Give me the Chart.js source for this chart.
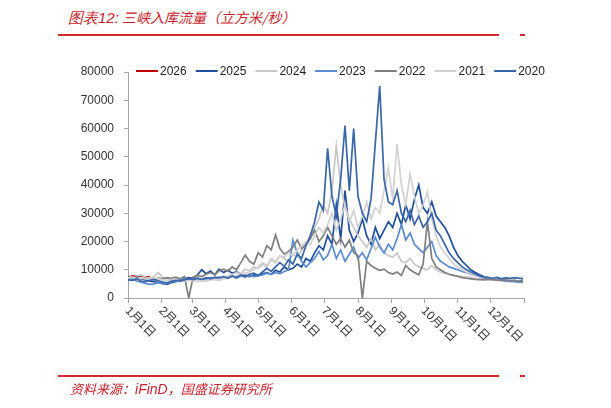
<!DOCTYPE html>
<html>
<head>
<meta charset="utf-8">
<script src="https://cdn.jsdelivr.net/npm/chart.js@4.4.1/dist/chart.umd.min.js"></script>
<style>
  body { margin: 0; width: 611px; height: 408px; background: #fff; position: relative; overflow: hidden; }
  #wrap { position: absolute; left: 0; top: 0; width: 611px; height: 408px; }
  .title { position: absolute; left: 68px; top: 7px; font: italic 14px 'Noto Sans CJK SC', sans-serif; color: #c8232c; white-space: nowrap; }
  .title b { font-family: 'Liberation Sans', Arial, sans-serif; font-weight: normal; font-size: 15px; }
  .rule { position: absolute; height: 1.5px; background: #d42a2a; }
  .source { position: absolute; left: 70px; top: 379px; font: italic 13px 'Noto Sans CJK SC', sans-serif; color: #c8232c; white-space: nowrap; }
  .source b { font-family: 'Liberation Sans', Arial, sans-serif; font-weight: normal; font-size: 14px; }
</style>
</head>
<body>
<div class="title"><b>图表12:</b> 三峡入库流量（立方米/秒）</div>
<div class="rule" style="left:58px; top:34px; width:441px;"></div>
<div class="rule" style="left:520px; top:34px; width:5px;"></div>
<div id="wrap"><canvas id="chart" width="611" height="408"></canvas></div>
<div class="rule" style="left:58px; top:375px; width:441px;"></div>
<div class="rule" style="left:520px; top:375px; width:5px;"></div>
<div class="source">资料来源：<b>iFinD</b>，国盛证券研究所</div>

<script>
// samples every 4 days, starting 1 Jan
const STEP = 4;

const monthLabels = ['1月1日','2月1日','3月1日','4月1日','5月1日','6月1日','7月1日','8月1日','9月1日','10月1日','11月1日','12月1日'];
const monthStarts = [0, 31, 59, 90, 120, 151, 181, 212, 243, 273, 304, 334];
const yearEnd = 365;

const seriesNames = ['2026','2025','2024','2023','2022','2021','2020'];
const seriesColors = ['#c00000','#1f4e9c','#c8c8c8','#5b8bd0','#7f7f7f','#d2d2d2','#3a66a8'];

const y2026 = [7000, 7800, 7600, 7900, 7400, 7600];

const y2025 = [
  7200, 6800, 7500, 6900, 6400, 6000, 5800, 5500,
  5200, 4800, 5400, 5800, 6200, 6800, 7200,
  7000, 8200, 10000, 8600, 9500, 8200, 10200, 9000,
  9800, 8800, 9200, 8400, 8000, 7600, 8200,
  8000, 8600, 9000, 8400, 9800, 9200, 11000, 10000,
  10500, 12000, 11000, 14000, 13000, 16000, 18500, 17000,
  22000, 19000, 33000, 21000, 38000, 24000, 20000,
  23000, 28000, 22000, 19000, 25000, 21000, 24000, 27000,
  25000, 30000, 26000, 33000, 28000, 35000, 40000, 32000,
  30000, 34000, 29000, 27000, 25000, 22000, 18000,
  15000, 13000, 11500, 10000, 9000, 8200, 7600, 7200,
  6800, 7000, 6600, 6400, 6200, 6000, 5800, 5600
];

const y2024 = [
  7500, 7000, 7800, 8200, 7400, 7000, 7600, 9000,
  7200, 6800, 6400, 6600, 6200, 6000, 6400,
  6200, 6600, 6000, 6400, 6800, 6500, 7000, 7400,
  7800, 8400, 9000, 8600, 10200, 9600, 11000,
  10500, 12000, 11000, 13500, 12500, 15000, 14000, 13000,
  15500, 14500, 17000, 19000, 22000, 25000, 28000, 33000,
  30000, 38000, 53800, 40000, 32000, 28000, 25000,
  22000, 20000, 18000, 21000, 17000, 19000, 16000, 15000,
  14500, 16000, 13000, 12500, 14000, 12000, 11000, 10500,
  10000, 11500, 10000, 9200, 8800, 8400, 8000,
  7800, 7600, 7400, 7200, 7000, 6800, 6900, 7000,
  6800, 6700, 7000, 6600, 6800, 7200, 6900, 7100
];

const y2023 = [
  6200, 6600, 6000, 5600, 5200, 4800, 5000, 5400,
  5000, 5200, 5600, 6000, 6400, 6200, 6800,
  6600, 7000, 6400, 6800, 7200, 6900, 7400, 7000,
  7200, 7600, 7000, 7800, 7400, 8000, 7600,
  7800, 8200, 8800, 8400, 9000, 8600, 9400, 10000,
  20500, 16000, 13000, 11000, 12500, 14000, 16500, 13500,
  15000, 19000, 14000, 17000, 13000, 15500, 18000,
  14000, 16000, 13500, 17500, 21500, 18000, 16000, 19000,
  17000, 21000, 26000, 20500, 23000, 19000, 17500, 16000,
  18000, 20000, 15000, 13000, 12000, 11000, 10500,
  10000, 9400, 9000, 8400, 8000, 7600, 7200, 6800,
  6600, 6400, 6200, 6000, 5900, 5800, 5700, 5500
];

const y2022 = [
  7800, 7200, 7600, 6800, 7000, 6400, 6600, 7000,
  6800, 7200, 7000, 7400, 6800, 7600, 0,
  7400, 8000, 7600, 8400, 9000, 8200, 9600, 10200,
  9400, 11000, 10000, 12500, 15200, 13000, 12000,
  16000, 14500, 18500, 17000, 22300, 17500, 15500, 16500,
  18000, 20500, 17500, 19000, 21000, 24000, 20000, 22000,
  25000, 22000, 19000, 21000, 18000, 20500, 16000,
  15000, 0, 13000, 11500, 10500, 9800, 10200, 9000,
  8500, 9200, 8000, 11500, 10000, 9000, 8200, 12000,
  27000, 14000, 11000, 10000, 9000, 8400, 8000,
  7600, 7200, 7000, 6800, 6600, 6500, 6400, 6600,
  6500, 6300, 6200, 6400, 6100, 6300, 6000, 6200
];

const y2021 = [
  7000, 7400, 6800, 7200, 6800, 6600, 7000, 6800,
  6400, 6200, 6000, 6300, 5800, 6000, 6200,
  6000, 5800, 6200, 6000, 6400, 6600, 6200, 6800,
  7000, 7400, 7800, 8200, 8800, 9200, 10000,
  11000, 12500, 11500, 14000, 13000, 15000, 14500, 16000,
  15000, 17000, 18500, 20000, 19000, 22000, 25000, 23000,
  26000, 30000, 24000, 28000, 33000, 27000, 31000,
  25000, 29000, 34000, 28000, 32000, 30000, 38000, 46000,
  35000, 54500, 40000, 33000, 44000, 36000, 30000, 33000,
  37500, 28000, 22000, 18000, 16000, 14000, 12000,
  11000, 10000, 9200, 8600, 8000, 7600, 7400, 7200,
  7000, 7200, 6900, 7100, 7300, 7000, 7200, 7400
];

const y2020 = [
  6500, 6200, 6800, 6000, 5800, 6300, 6600, 6100,
  5600, 5400, 5900, 6200, 6000, 6400, 6800,
  6500, 7000, 6600, 7200, 6800, 7400, 7100, 7600,
  7000, 7800, 7300, 8200, 7600, 8400, 8800,
  8000, 9200, 10500, 9400, 11000, 12500, 11200, 13500,
  12000, 15500, 14000, 18500, 22000, 27000, 34000, 31000,
  53000, 36000, 29000, 42000, 61000, 38000, 60000,
  36000, 30000, 27000, 35000, 55000, 75000, 42000, 34000,
  33000, 38000, 30000, 27000, 31000, 26000, 29000, 25000,
  27000, 30000, 24000, 22000, 19000, 16000, 14000,
  12500, 11000, 10000, 9200, 8500, 7800, 7400, 7200,
  7000, 7300, 6800, 7100, 6900, 7200, 7000, 6800
];

const seriesValues = [y2026, y2025, y2024, y2023, y2022, y2021, y2020];

const toPoints = vals => vals.map((v, i) => ({ x: i * STEP, y: v }));

const datasets = seriesNames.map((name, k) => ({
  label: name,
  data: toPoints(seriesValues[k]),
  borderColor: seriesColors[k],
  backgroundColor: seriesColors[k],
  borderWidth: 1.7,
  pointRadius: 0,
  tension: 0,
  order: seriesNames.length - k
}));

const FONT = "'Liberation Sans', Arial, 'Noto Sans CJK SC', sans-serif";
Chart.defaults.font.family = FONT;
Chart.defaults.font.size = 12;
Chart.defaults.color = '#333';

// legend drawn across the top of the plot, Excel style
const legendPlugin = {
  id: 'topLegend',
  afterDraw(chart) {
    const ctx = chart.ctx;
    ctx.save();
    ctx.font = '12px ' + FONT;
    ctx.textBaseline = 'middle';
    let x = 136;
    const y = 71;
    seriesNames.forEach((name, k) => {
      ctx.strokeStyle = seriesColors[k];
      ctx.lineWidth = 2;
      ctx.beginPath();
      ctx.moveTo(x, y);
      ctx.lineTo(x + 22, y);
      ctx.stroke();
      ctx.fillStyle = '#222';
      ctx.fillText(name, x + 24, y + 1);
      x += 24 + ctx.measureText(name).width + 9;
    });
    ctx.restore();
  }
};

// rotated month labels under the x axis
const monthLabelPlugin = {
  id: 'monthLabels',
  afterDraw(chart) {
    const xs = chart.scales.x;
    const ctx = chart.ctx;
    ctx.save();
    ctx.font = '12px ' + FONT;
    ctx.fillStyle = '#333';
    ctx.textAlign = 'left';
    ctx.textBaseline = 'middle';
    monthLabels.forEach((lab, i) => {
      const px = xs.getPixelForValue(monthStarts[i]);
      ctx.save();
      ctx.translate(px - 1, xs.top + 11);
      ctx.rotate(Math.PI / 4);
      ctx.fillText(lab, 0, 0);
      ctx.restore();
    });
    ctx.restore();
  }
};

new Chart(document.getElementById('chart'), {
  type: 'line',
  data: { datasets },
  options: {
    responsive: false,
    animation: false,
    layout: { padding: { left: 78, right: 87, top: 72, bottom: 0 } },
    plugins: {
      legend: { display: false },
      tooltip: { enabled: false }
    },
    scales: {
      x: {
        type: 'linear',
        min: 0,
        max: yearEnd,
        afterBuildTicks: s => { s.ticks = monthStarts.concat(yearEnd).map(v => ({ value: v })); },
        afterFit: s => { s.height = 110; },
        ticks: { display: false },
        grid: { drawOnChartArea: false, drawTicks: true, tickLength: 5, color: '#a6a6a6' },
        border: { color: '#a6a6a6', width: 1 }
      },
      y: {
        min: 0,
        max: 80000,
        afterFit: s => { s.width = 50; },
        ticks: { stepSize: 10000, padding: 10, color: '#333', callback: v => String(v) },
        grid: { drawOnChartArea: false, drawTicks: true, tickLength: 4, color: '#a6a6a6' },
        border: { color: '#a6a6a6', width: 1 }
      }
    }
  },
  plugins: [legendPlugin, monthLabelPlugin]
});
</script>
</body>
</html>
